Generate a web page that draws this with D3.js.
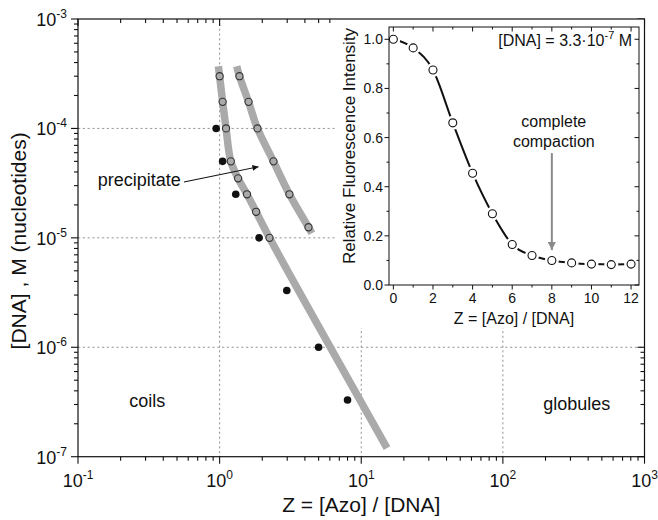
<!DOCTYPE html>
<html><head><meta charset="utf-8">
<script src="https://cdn.jsdelivr.net/npm/d3@7"></script>
<style>
body{margin:0;background:#fff}
svg{display:block}
text{font-family:"Liberation Sans",Arial,Helvetica,sans-serif;fill:#111}
</style>
</head><body>
<svg id="c" width="658" height="520"></svg>
<script>
// ---------------- data ----------------
const openLeftZ  = [1.0, 1.05, 1.11, 1.2, 1.35, 1.56, 1.81, 2.25];
const openLeftC  = [3e-4, 1.75e-4, 1e-4, 5e-5, 3.5e-5, 2.5e-5, 1.73e-5, 1e-5];
const openRightZ = [1.38, 1.6, 1.85, 2.4, 3.11, 4.24];
const openRightC = [3e-4, 1.75e-4, 1e-4, 5e-5, 2.5e-5, 1.25e-5];
const filledZ    = [0.945, 1.05, 1.3, 1.9, 2.98, 5.0, 8.0];
const filledC    = [1e-4, 5e-5, 2.5e-5, 1e-5, 3.3e-6, 1e-6, 3.3e-7];
const bandLeftZ  = [0.98, 1.0, 1.05, 1.11, 1.2, 1.35, 1.56, 1.81, 2.25, 15.2];
const bandLeftC  = [3.7e-4, 3e-4, 1.75e-4, 1e-4, 5e-5, 3.5e-5, 2.5e-5, 1.73e-5, 1e-5, 1.2e-7];
const bandRightZ = [1.32, 1.38, 1.6, 1.85, 2.4, 3.11, 4.24, 4.48];
const bandRightC = [3.7e-4, 3e-4, 1.75e-4, 1e-4, 5e-5, 2.5e-5, 1.25e-5, 1.1e-5];
const xDecades = [0.1, 1, 10, 100, 1000];
const xExps    = ["-1", "0", "1", "2", "3"];
const yDecades = [1e-7, 1e-6, 1e-5, 1e-4, 1e-3];
const yExps    = ["-7", "-6", "-5", "-4", "-3"];
const xGrid = [1, 10, 100];
const yGrid = [1e-6, 1e-5, 1e-4];

const insetZ = [0,1,2,3,4,5,6,7,8,9,10,11,12];
const insetI = [1.0, 0.965, 0.875, 0.66, 0.455, 0.29, 0.165, 0.12, 0.10, 0.09, 0.085, 0.083, 0.085];
const insetXTicks = [0,2,4,6,8,10,12];
const insetYTicks = [0.0,0.2,0.4,0.6,0.8,1.0];
const insetYLabels = ["0.0","0.2","0.4","0.6","0.8","1.0"];

// ---------------- scales ----------------
const svg = d3.select("#c");
const x = d3.scaleLog().domain([0.1, 1000]).range([78, 644.5]);
const y = d3.scaleLog().domain([1e-7, 1e-3]).range([456.7, 19]);
const ix = d3.scaleLinear().domain([-0.22, 12.4]).range([389, 639]);
const iy = d3.scaleLinear().domain([0, 1.05]).range([285, 27]);

svg.append("rect").attr("width",658).attr("height",520).attr("fill","#fff");

// markers
const defs = svg.append("defs");
defs.append("marker").attr("id","ahB").attr("viewBox","0 0 10 10").attr("refX",10).attr("refY",5)
  .attr("markerWidth",10).attr("markerHeight",6).attr("markerUnits","userSpaceOnUse").attr("orient","auto")
  .append("path").attr("d","M0,0L10,5L0,10z").attr("fill","#111");
defs.append("marker").attr("id","ahG").attr("viewBox","0 0 10 10").attr("refX",10).attr("refY",5)
  .attr("markerWidth",11).attr("markerHeight",8).attr("markerUnits","userSpaceOnUse").attr("orient","auto")
  .append("path").attr("d","M0,0L10,5L0,10z").attr("fill","#8a8a8a");

// ---------------- grid ----------------
const grid = svg.append("g").attr("stroke","#8c8c8c").attr("stroke-width",0.9).attr("stroke-dasharray","2.2,2.6");
grid.selectAll(".gx").data(xGrid).join("line")
  .attr("x1",d=>x(d)).attr("x2",d=>x(d)).attr("y1",y(1e-3)).attr("y2",y(1e-7));
grid.selectAll(".gy").data(yGrid).join("line")
  .attr("x1",x(0.1)).attr("x2",x(1000)).attr("y1",d=>y(d)).attr("y2",d=>y(d));

// ---------------- bands ----------------
const line = d3.line().x(d=>x(d[0])).y(d=>y(d[1])).curve(d3.curveCatmullRom.alpha(0.5));
[[bandLeftZ,bandLeftC],[bandRightZ,bandRightC]].forEach(([Z,C])=>{
  svg.append("path").datum(Z.map((z,i)=>[z,C[i]])).attr("d",line)
    .attr("fill","none").attr("stroke","#aaaaaa").attr("stroke-width",7.5);
});

// points
const openPts = openLeftZ.map((z,i)=>[z,openLeftC[i]]).concat(openRightZ.map((z,i)=>[z,openRightC[i]]));
svg.append("g").selectAll("circle").data(openPts).join("circle")
  .attr("cx",d=>x(d[0])).attr("cy",d=>y(d[1])).attr("r",3.6)
  .attr("fill","#aaaaaa").attr("stroke","#333").attr("stroke-width",1.1);
svg.append("g").selectAll("circle").data(filledZ.map((z,i)=>[z,filledC[i]])).join("circle")
  .attr("cx",d=>x(d[0])).attr("cy",d=>y(d[1])).attr("r",3.8).attr("fill","#111");

// annotations main
svg.append("line").attr("x1",x(0.56)).attr("y1",y(3.24e-5)).attr("x2",x(1.88)).attr("y2",y(4.47e-5))
  .attr("stroke","#111").attr("stroke-width",1.1).attr("marker-end","url(#ahB)");
svg.append("text").attr("x",x(0.138)).attr("y",y(2.97e-5)).attr("font-size",18).text("precipitate");
svg.append("text").attr("x",x(0.23)).attr("y",y(2.86e-7)).attr("font-size",18).text("coils");
svg.append("text").attr("x",x(193)).attr("y",y(2.67e-7)).attr("font-size",18).text("globules");

// ---------------- main axes ticks ----------------
const minorX = [], minorY = [];
xDecades.slice(0,-1).forEach(d=>{for(let k=2;k<10;k++) minorX.push(d*k);});
yDecades.slice(0,-1).forEach(d=>{for(let k=2;k<10;k++) minorY.push(d*k);});
const ax = svg.append("g").attr("stroke","#111").attr("stroke-width",1.1);
const X0=x(0.1), X1=x(1000), Y0=y(1e-7), Y1=y(1e-3);
ax.selectAll(".bM").data(xDecades).join("line").attr("x1",d=>x(d)).attr("x2",d=>x(d)).attr("y1",Y0).attr("y2",Y0+7);
ax.selectAll(".bm").data(minorX).join("line").attr("x1",d=>x(d)).attr("x2",d=>x(d)).attr("y1",Y0).attr("y2",Y0+4);
ax.selectAll(".tM").data(xDecades).join("line").attr("x1",d=>x(d)).attr("x2",d=>x(d)).attr("y1",Y1).attr("y2",Y1+7);
ax.selectAll(".tm").data(minorX).join("line").attr("x1",d=>x(d)).attr("x2",d=>x(d)).attr("y1",Y1).attr("y2",Y1+4);
ax.selectAll(".lM").data(yDecades).join("line").attr("y1",d=>y(d)).attr("y2",d=>y(d)).attr("x1",X0).attr("x2",X0-7);
ax.selectAll(".lm").data(minorY).join("line").attr("y1",d=>y(d)).attr("y2",d=>y(d)).attr("x1",X0).attr("x2",X0-4);
ax.selectAll(".rM").data(yDecades).join("line").attr("y1",d=>y(d)).attr("y2",d=>y(d)).attr("x1",X1).attr("x2",X1-7);
ax.selectAll(".rm").data(minorY).join("line").attr("y1",d=>y(d)).attr("y2",d=>y(d)).attr("x1",X1).attr("x2",X1-4);

// tick labels
const xl = svg.append("g").selectAll("text").data(xDecades).join("text")
  .attr("x",d=>x(d)).attr("y",Y0+30).attr("text-anchor","middle").attr("font-size",18);
xl.append("tspan").text("10");
xl.append("tspan").attr("dy",-8).attr("font-size",12).text((d,i)=>xExps[i]);
const yl = svg.append("g").selectAll("text").data(yDecades).join("text")
  .attr("x",X0-11).attr("y",d=>y(d)+7).attr("text-anchor","end").attr("font-size",18);
yl.append("tspan").text("10");
yl.append("tspan").attr("dy",-8).attr("font-size",12).text((d,i)=>yExps[i]);

svg.append("text").attr("x",(X0+X1)/2).attr("y",512).attr("text-anchor","middle").attr("font-size",21)
  .text("Z = [Azo] / [DNA]");
svg.append("text").attr("transform",`translate(26,${(Y0+Y1)/2+3}) rotate(-90)`).attr("text-anchor","middle")
  .attr("font-size",21).text("[DNA] , M (nucleotides)");

// ---------------- inset ----------------
svg.append("rect").attr("x",336).attr("y",Y1).attr("width",X1-336).attr("height",328-Y1).attr("fill","#fff");
const IX0=ix.range()[0], IX1=ix.range()[1], IY0=iy.range()[0], IY1=iy.range()[1];

const iline = d3.line().x((d,i)=>ix(insetZ[i])).y(d=>iy(d)).curve(d3.curveMonotoneX);
svg.append("path").datum(insetI).attr("d",iline).attr("fill","none").attr("stroke","#111")
  .attr("stroke-width",2);
// gaps round symbols
svg.append("g").selectAll("circle").data(insetI).join("circle")
  .attr("cx",(d,i)=>ix(insetZ[i])).attr("cy",d=>iy(d)).attr("r",7).attr("fill","#fff");
svg.append("g").selectAll("circle").data(insetI).join("circle")
  .attr("cx",(d,i)=>ix(insetZ[i])).attr("cy",d=>iy(d)).attr("r",4)
  .attr("fill","#fff").attr("stroke","#111").attr("stroke-width",1.1);

const iax = svg.append("g").attr("stroke","#111").attr("stroke-width",1);
iax.append("rect").attr("x",IX0).attr("y",IY1).attr("width",IX1-IX0).attr("height",IY0-IY1).attr("fill","none");
const iminX = d3.range(0,13,1), iminY = d3.range(0,1.05,0.1);
iax.selectAll(".ibm").data(iminX).join("line").attr("x1",d=>ix(d)).attr("x2",d=>ix(d)).attr("y1",IY0).attr("y2",d=>IY0+(d%2===0?4.5:2.5));
iax.selectAll(".itm").data(iminX).join("line").attr("x1",d=>ix(d)).attr("x2",d=>ix(d)).attr("y1",IY1).attr("y2",d=>IY1+(d%2===0?4.5:2.5));
iax.selectAll(".ilm").data(iminY).join("line").attr("y1",d=>iy(d)).attr("y2",d=>iy(d)).attr("x1",IX0).attr("x2",(d,i)=>IX0-(i%2===0?4.5:2.5));
iax.selectAll(".irm").data(iminY).join("line").attr("y1",d=>iy(d)).attr("y2",d=>iy(d)).attr("x1",IX1).attr("x2",(d,i)=>IX1-(i%2===0?4.5:2.5));

svg.append("g").selectAll("text").data(insetXTicks).join("text")
  .attr("x",d=>ix(d)).attr("y",IY0+18).attr("text-anchor","middle").attr("font-size",14).text(d=>d);
svg.append("g").selectAll("text").data(insetYTicks).join("text")
  .attr("x",IX0-6).attr("y",d=>iy(d)+5).attr("text-anchor","end").attr("font-size",14).text((d,i)=>insetYLabels[i]);
svg.append("text").attr("x",(IX0+IX1)/2).attr("y",324).attr("text-anchor","middle").attr("font-size",16)
  .text("Z = [Azo] / [DNA]");
svg.append("text").attr("transform",`translate(355,146) rotate(-90)`).attr("text-anchor","middle")
  .attr("font-size",17).text("Relative Fluorescence Intensity");

const dnaT = svg.append("text").attr("x",ix(12.05)).attr("y",iy(0.973)).attr("text-anchor","end").attr("font-size",16);
dnaT.append("tspan").text("[DNA] = 3.3\u00B710");
dnaT.append("tspan").attr("dy",-7).attr("font-size",11).text("-7");
dnaT.append("tspan").attr("dy",7).text(" M");

svg.append("text").attr("x",ix(8.1)).attr("y",iy(0.644)).attr("text-anchor","middle").attr("font-size",16).text("complete");
svg.append("text").attr("x",ix(8.1)).attr("y",iy(0.563)).attr("text-anchor","middle").attr("font-size",16).text("compaction");
svg.append("line").attr("x1",ix(8)).attr("x2",ix(8)).attr("y1",iy(0.537)).attr("y2",iy(0.142))
  .attr("stroke","#8a8a8a").attr("stroke-width",2).attr("marker-end","url(#ahG)");

// main frame on top
svg.append("rect").attr("x",X0).attr("y",Y1).attr("width",X1-X0).attr("height",Y0-Y1)
  .attr("fill","none").attr("stroke","#111").attr("stroke-width",1.2);
</script>
</body></html>
